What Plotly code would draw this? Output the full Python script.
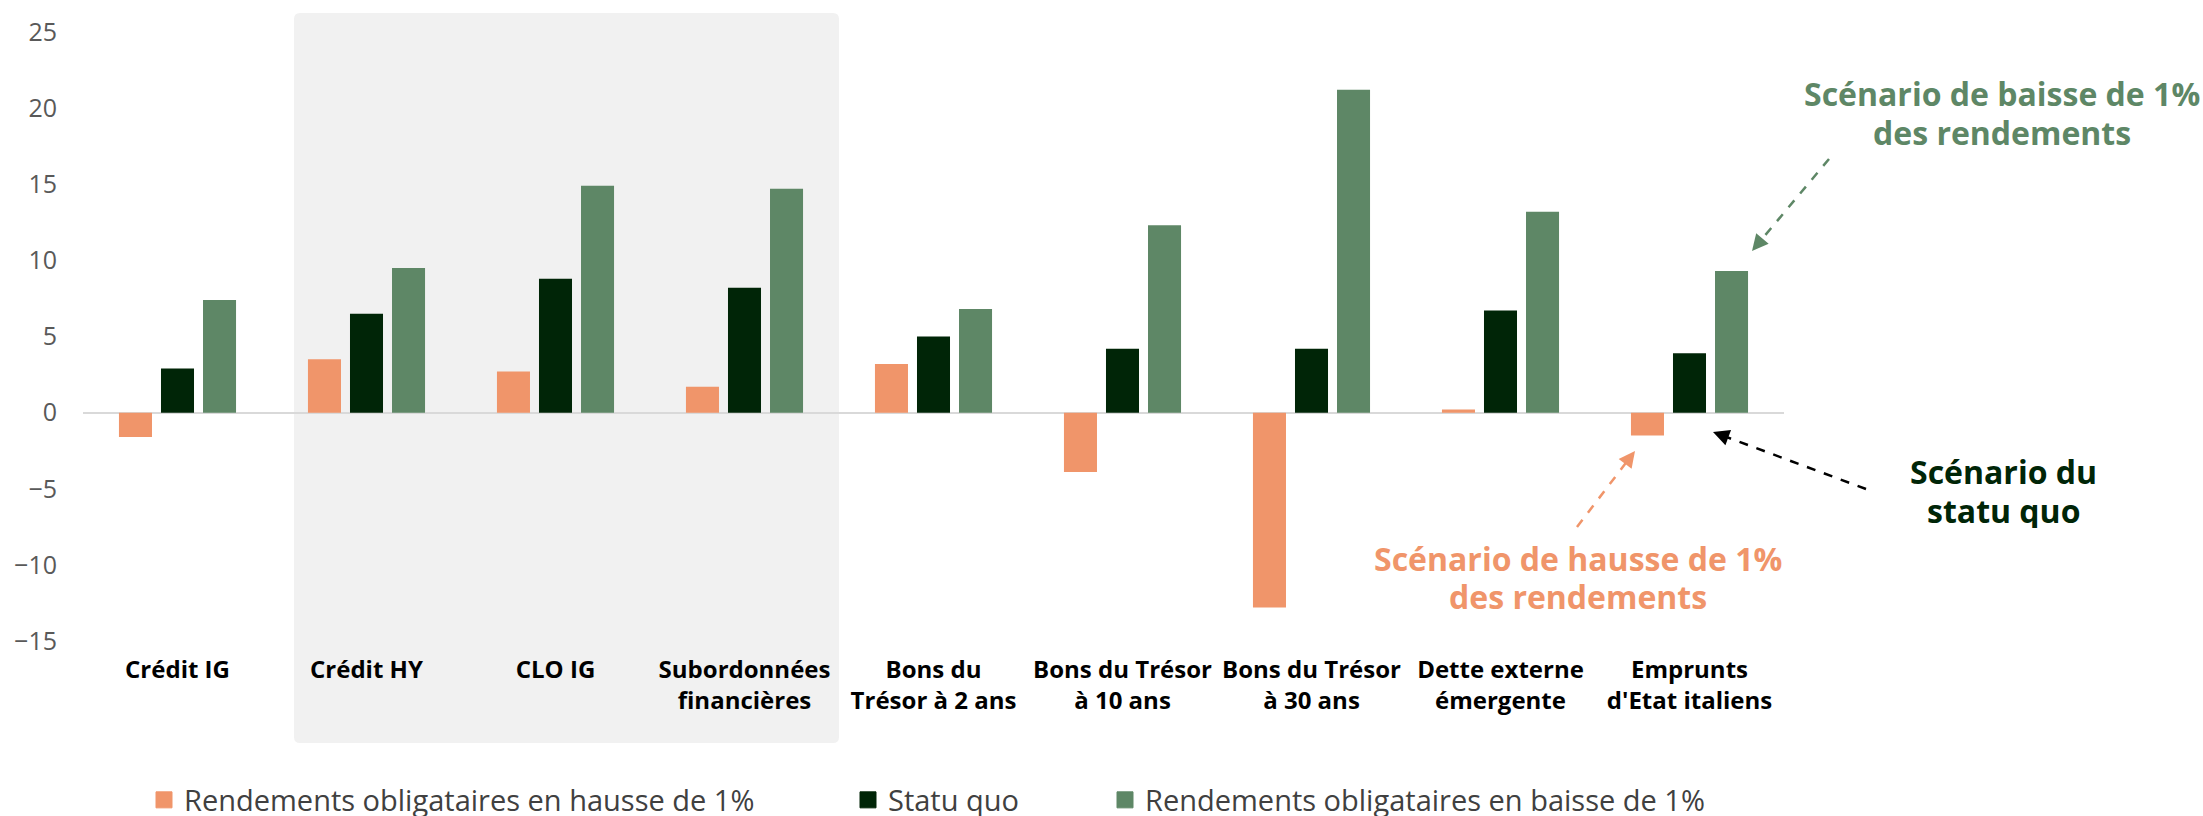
import plotly.graph_objects as go

categories = [
    "Crédit IG", "Crédit HY", "CLO IG", "Subordonnées<br>financières",
    "Bons du<br>Trésor à 2 ans", "Bons du Trésor<br>à 10 ans", "Bons du Trésor<br>à 30 ans",
    "Dette externe<br>émergente", "Emprunts<br>d'Etat italiens",
]
series_names = [
    "Rendements obligataires en hausse de 1%",
    "Statu quo",
    "Rendements obligataires en baisse de 1%",
]
hausse = [-1.6, 3.5, 2.7, 1.7, 3.2, -3.9, -12.8, 0.2, -1.5]
statu_quo = [2.9, 6.5, 8.8, 8.2, 5.0, 4.2, 4.2, 6.7, 3.9]
baisse = [7.4, 9.5, 14.9, 14.7, 6.8, 12.3, 21.2, 13.2, 9.3]
y_ticks = [-15, -10, -5, 0, 5, 10, 15, 20, 25]

colors = ["#F0956A", "#002507", "#5E8766"]
FONT = "Open Sans"

W, H = 2203, 816
L, R, T, B = 83, 1784, 32, 641


def px(x):
    return (x - L) / (R - L)


def py(y):
    return (B - y) / (B - T)


fig = go.Figure()
for name, vals, col in zip(series_names, [hausse, statu_quo, baisse], colors):
    fig.add_trace(go.Bar(x=categories, y=vals, name=name, marker=dict(color=col, line=dict(width=0)),
                         showlegend=False))

# legend entries (one legend per series for exact placement)
legend_x = [156, 860, 1117]
for i, (name, col) in enumerate(zip(series_names, colors)):
    lg = "legend" if i == 0 else f"legend{i+1}"
    fig.add_trace(go.Scatter(x=[None], y=[None], mode="markers", name=name,
                             marker=dict(symbol="square", size=16, color=col, line=dict(color=col, width=1)),
                             showlegend=True, legend=lg))

leg_common = dict(orientation="h", yanchor="middle", y=py(800), xanchor="left",
                  font=dict(family=FONT, size=29, color="#404040"), bgcolor="rgba(0,0,0,0)",
                  borderwidth=0, itemwidth=30)
fig.update_layout(
    legend=dict(x=px(legend_x[0] - 12), **leg_common),
    legend2=dict(x=px(legend_x[1] - 12), **leg_common),
    legend3=dict(x=px(legend_x[2] - 12), **leg_common),
)

# shaded rounded rectangle
x0, x1, y0, y1, r = 294, 839, 13, 743, 6
rx = r / (R - L)
ry = r / (B - T)
X0, X1, Y0, Y1 = px(x0), px(x1), py(y1), py(y0)
path = (f"M{X0+rx},{Y1} L{X1-rx},{Y1} Q{X1},{Y1} {X1},{Y1-ry} L{X1},{Y0+ry} Q{X1},{Y0} {X1-rx},{Y0} "
        f"L{X0+rx},{Y0} Q{X0},{Y0} {X0},{Y0+ry} L{X0},{Y1-ry} Q{X0},{Y1} {X0+rx},{Y1} Z")
fig.add_shape(type="path", path=path, xref="paper", yref="paper", fillcolor="#F1F1F1",
              line=dict(width=0), layer="below")

# dashed arrows
arrows = [
    ((1829, 159), (1752, 251), "#5E8766"),
    ((1866, 489), (1713, 432), "#000000"),
    ((1577, 527), (1635, 451), "#F0956A"),
]
for (tx, ty), (hx, hy), col in arrows:
    dx, dy = hx - tx, hy - ty
    ln = (dx ** 2 + dy ** 2) ** 0.5
    ux, uy = dx / ln, dy / ln
    ex, ey = hx - ux * 12, hy - uy * 12
    fig.add_shape(type="line", xref="paper", yref="paper", x0=px(tx), y0=py(ty), x1=px(ex), y1=py(ey),
                  line=dict(color=col, width=2.5, dash="dash"))
    fig.add_annotation(x=px(hx), y=py(hy), xref="paper", yref="paper", text="", showarrow=True,
                       ax=-ux * 16, ay=-uy * 16, axref="pixel", ayref="pixel",
                       arrowhead=2, arrowsize=1.3, arrowwidth=2.5, arrowcolor=col, standoff=0)

# annotation texts
texts = [
    ("Scénario de baisse de 1%", 2002, 93, "#5E8766"),
    ("des rendements", 2002, 132, "#5E8766"),
    ("Scénario du", 2003, 471, "#002507"),
    ("statu quo", 2003, 510, "#002507"),
    ("Scénario de hausse de 1%", 1578, 558, "#F0956A"),
    ("des rendements", 1578, 596, "#F0956A"),
]
for t, x, y, col in texts:
    fig.add_annotation(x=px(x), y=py(y), xref="paper", yref="paper", text=f"<b>{t}</b>", showarrow=False,
                       xanchor="center", yanchor="middle", height=36, borderpad=0,
                       font=dict(family=FONT, size=32, color=col))

fig.update_layout(
    width=W, height=H, autosize=False,
    margin=dict(l=L, r=W - R, t=T, b=H - B, pad=0, autoexpand=False),
    plot_bgcolor="rgba(0,0,0,0)", paper_bgcolor="white",
    barmode="group", bargap=0.333, bargroupgap=0.214,
    xaxis=dict(showgrid=False, showline=False, ticks="", automargin=False,
               tickfont=dict(family=FONT, size=24, color="#000000", weight="bold"), ticklabelstandoff=12),
    yaxis=dict(range=[-15, 25], tickvals=y_ticks, showgrid=False, showline=False, zeroline=True,
               automargin=False, zerolinecolor="#D9D9D9", zerolinewidth=2, ticks="",
               tickfont=dict(family=FONT, size=25, color="#595959"), ticklabelstandoff=25),
)

fig.write_html("out.html", config={"displayModeBar": False},
               post_script="document.body.style.margin='0';document.body.style.overflow='hidden';")
